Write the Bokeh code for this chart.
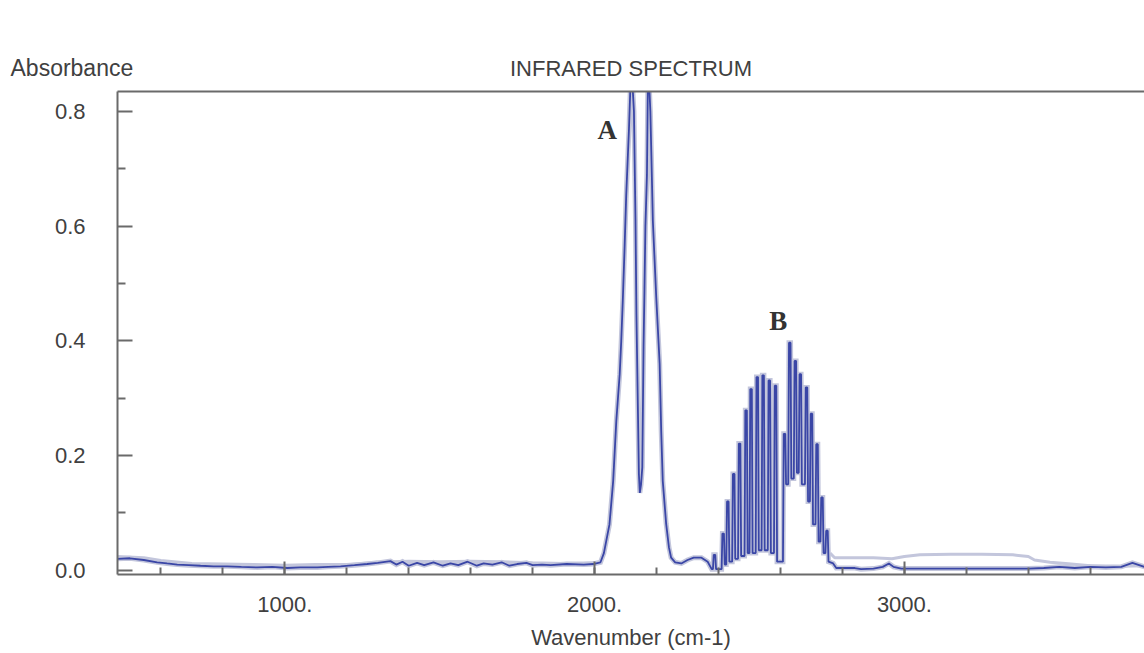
from bokeh.plotting import figure
from bokeh.models import Range1d, FixedTicker, LinearAxis, Label
from bokeh.embed import file_html
from bokeh.resources import INLINE

# ---------------- data ----------------
# blue trace, low-wavenumber baseline
base_left_wn = [460, 500, 545, 588, 620, 653, 690, 728, 770, 814, 860, 911, 960, 1008,
                1050, 1105, 1140, 1180, 1225, 1266, 1300, 1341, 1360, 1380, 1400, 1427,
                1450, 1480, 1510, 1535, 1560, 1590, 1620, 1642, 1670, 1700, 1725, 1750,
                1780, 1800, 1830, 1858, 1910, 1965, 1995, 2019]
base_left_abs = [0.020, 0.021, 0.018, 0.014, 0.012, 0.010, 0.009, 0.008, 0.007, 0.007,
                 0.006, 0.005, 0.006, 0.004, 0.005, 0.005, 0.006, 0.007, 0.009, 0.011,
                 0.013, 0.016, 0.010, 0.015, 0.008, 0.013, 0.009, 0.014, 0.008, 0.012,
                 0.009, 0.015, 0.008, 0.012, 0.010, 0.014, 0.008, 0.011, 0.013, 0.009,
                 0.010, 0.009, 0.011, 0.010, 0.011, 0.014]
# band A (P and R branches, tops run off the plot)
band_a_wn = [2030, 2048, 2060, 2070, 2081, 2086, 2091, 2097, 2102, 2111, 2116, 2122,
             2127, 2132, 2135, 2140, 2143, 2146, 2150, 2154, 2158, 2161, 2164, 2169,
             2172, 2176, 2180, 2183, 2188, 2199, 2210, 2215, 2220, 2231, 2240, 2247, 2260]
band_a_abs = [0.030, 0.080, 0.156, 0.260, 0.342, 0.400, 0.470, 0.566, 0.653, 0.770,
              0.850, 0.850, 0.800, 0.610, 0.447, 0.273, 0.168, 0.135, 0.150, 0.180,
              0.390, 0.490, 0.600, 0.690, 0.850, 0.850, 0.800, 0.730, 0.610, 0.476,
              0.360, 0.243, 0.156, 0.081, 0.040, 0.022, 0.014]
# region between the bands
gap_wn = [2280, 2300, 2320, 2345, 2365, 2378]
gap_abs = [0.012, 0.018, 0.022, 0.022, 0.015, 0.002]
# band B rotational lines
line_wn = [2387, 2415, 2430, 2449, 2468, 2489, 2505, 2525, 2544, 2564, 2584,
           2613, 2630, 2648, 2664, 2684, 2700, 2718, 2734, 2750]
line_abs = [0.027, 0.064, 0.120, 0.168, 0.221, 0.279, 0.316, 0.337, 0.340, 0.331, 0.322,
            0.238, 0.397, 0.365, 0.342, 0.319, 0.273, 0.220, 0.127, 0.069]
valley_abs = [0.002, 0.010, 0.015, 0.020, 0.025, 0.030, 0.030, 0.035, 0.035, 0.030, 0.015,
              0.150, 0.160, 0.170, 0.150, 0.120, 0.080, 0.050, 0.030, 0.015]
# blue trace, high-wavenumber baseline
base_right_wn = [2770, 2780, 2840, 2860, 2900, 2930, 2950, 2965, 2990, 3100, 3200, 3300,
                 3400, 3450, 3500, 3550, 3600, 3650, 3700, 3736, 3775]
base_right_abs = [0.012, 0.004, 0.004, 0.002, 0.003, 0.006, 0.012, 0.006, 0.003, 0.003,
                  0.003, 0.003, 0.003, 0.004, 0.006, 0.004, 0.006, 0.005, 0.006, 0.013, 0.006]
# second (grey) trace
grey_left_wn = [460, 545, 600, 700, 800, 900, 1000, 1100, 1200, 1300, 1400, 1500, 1600,
                1700, 1800, 1900, 2000]
grey_left_abs = [0.024, 0.022, 0.017, 0.012, 0.011, 0.010, 0.009, 0.010, 0.010, 0.014,
                 0.016, 0.015, 0.016, 0.015, 0.013, 0.012, 0.013]
grey_right_wn = [2760, 2775, 2900, 2960, 3000, 3050, 3150, 3250, 3350, 3400, 3420, 3470,
                 3520, 3600, 3700, 3775]
grey_right_abs = [0.030, 0.022, 0.022, 0.020, 0.024, 0.027, 0.028, 0.028, 0.027, 0.024,
                  0.018, 0.014, 0.012, 0.008, 0.007, 0.008]

x_ticks = [1000, 2000, 3000]
x_tick_labels = ["1000.", "2000.", "3000."]
y_ticks = [0.0, 0.2, 0.4, 0.6, 0.8]
y_tick_labels = ["0.0", "0.2", "0.4", "0.6", "0.8"]

# ---------------- build the traces ----------------
blue_x = list(base_left_wn) + list(band_a_wn) + list(gap_wn)
blue_y = list(base_left_abs) + list(band_a_abs) + list(gap_abs)
for c, h, v in zip(line_wn, line_abs, valley_abs):
    blue_x += [c - 5, c - 2.5, c + 2.5, c + 5]
    blue_y += [blue_y[-1], h, h, v]
blue_x += base_right_wn
blue_y += base_right_abs

TEXT = "#404040"
FONT = "Liberation Sans"

p = figure(width=1144, height=653, output_backend="svg", toolbar_location=None,
           x_range=Range1d(460, 3775), y_range=Range1d(-0.0073, 0.835),
           min_border_left=117, min_border_right=0, min_border_top=91,
           min_border_bottom=79, background_fill_color="white",
           border_fill_color="white", outline_line_color=None,
           title="Absorbance")
p.grid.visible = False

# "Absorbance" sits at the top left, level with the chart title
p.title.align = "left"
p.title.offset = -107
p.title.standoff = -56
p.title.text_font = FONT
p.title.text_font_size = "23px"
p.title.text_font_style = "normal"
p.title.text_color = TEXT

# traces
p.line(grey_left_wn, grey_left_abs, line_color="#c3c6dc", line_width=3)
p.line(grey_right_wn, grey_right_abs, line_color="#c3c6dc", line_width=3)
p.line(blue_x, blue_y, line_color="#c3c6dc", line_width=5, line_join="miter")
p.line(blue_x, blue_y, line_color="#3a46a6", line_width=1.8)

# axes
for ax in (p.xaxis[0], p.yaxis[0]):
    ax.axis_line_color = "#6a6a6a"
    ax.axis_line_width = 2
    ax.major_tick_line_color = "#6a6a6a"
    ax.major_tick_line_width = 2
    ax.minor_tick_line_color = "#6a6a6a"
    ax.minor_tick_line_width = 2
    ax.major_tick_out = 0
    ax.minor_tick_out = 0
    ax.major_label_text_font = FONT
    ax.major_label_text_font_size = "22px"
    ax.major_label_text_color = TEXT

p.xaxis.ticker = FixedTicker(ticks=x_ticks, minor_ticks=list(range(600, 3800, 200)))
p.xaxis.major_label_overrides = {t: s for t, s in zip(x_ticks, x_tick_labels)}
p.xaxis.major_tick_in = 13
p.xaxis.minor_tick_in = 7
p.xaxis.major_label_standoff = 22
p.xaxis.axis_label = "Wavenumber (cm-1)"
p.xaxis.axis_label_text_font = FONT
p.xaxis.axis_label_text_font_size = "22px"
p.xaxis.axis_label_text_font_style = "normal"
p.xaxis.axis_label_text_color = TEXT
p.xaxis.axis_label_standoff = 10

p.yaxis.ticker = FixedTicker(ticks=y_ticks, minor_ticks=[0.1, 0.3, 0.5, 0.7])
p.yaxis.major_label_overrides = {t: s for t, s in zip(y_ticks, y_tick_labels)}
p.yaxis.major_tick_in = 15
p.yaxis.minor_tick_in = 8
p.yaxis.major_label_standoff = 32

top = LinearAxis(axis_line_color="#6a6a6a", axis_line_width=2,
                 major_tick_line_color=None, minor_tick_line_color=None,
                 major_label_text_font_size="0px", major_label_standoff=0,
                 axis_label="INFRARED SPECTRUM", axis_label_text_font=FONT,
                 axis_label_text_font_size="22px", axis_label_text_font_style="normal",
                 axis_label_text_color=TEXT, axis_label_standoff=5)
p.add_layout(top, "above")

# band labels
p.add_layout(Label(x=2041, y=0.767, text="A", text_font="Liberation Serif",
                   text_font_style="bold", text_font_size="27px", text_color="#333333",
                   text_baseline="middle", text_align="center"))
p.add_layout(Label(x=2593, y=0.434, text="B", text_font="Liberation Serif",
                   text_font_style="bold", text_font_size="27px", text_color="#333333",
                   text_baseline="middle", text_align="center"))

open("out.html", "w").write(file_html(p, INLINE))
